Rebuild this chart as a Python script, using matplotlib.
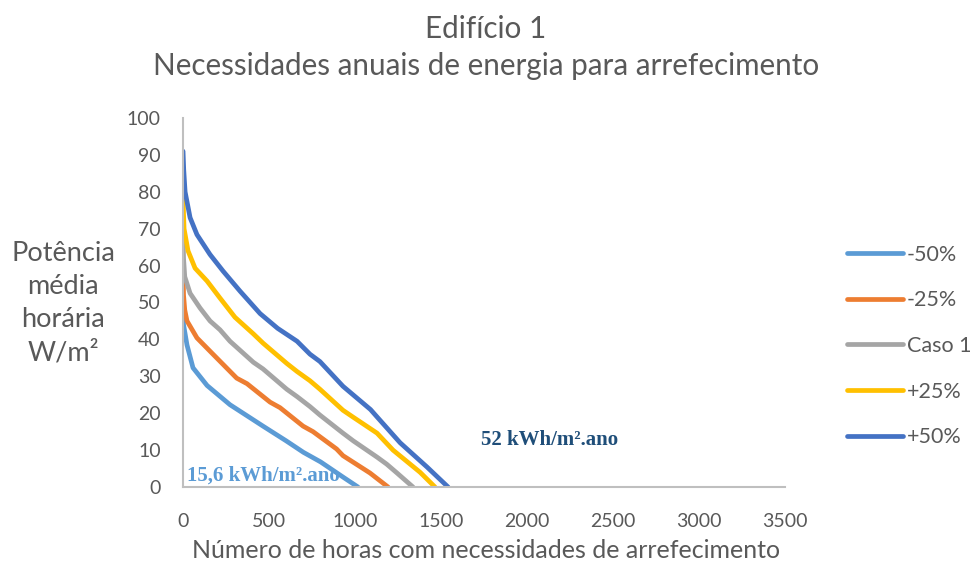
import matplotlib
matplotlib.use("Agg")
import matplotlib.pyplot as plt

plt.rcParams['font.family'] = ['Lato', 'DejaVu Sans']

# load duration curves (hours, W/m2)
h_m50 = [0, 3, 23, 58, 140, 273, 465, 600, 700, 800, 930, 1017]
v_m50 = [49, 44, 38.5, 32.3, 27.5, 22.3, 16.5, 12.5, 9.4, 6.8, 2.7, 0]

h_m25 = [0, 3, 10, 23, 81, 174, 312, 372, 506, 564, 698, 756, 893, 930, 1087, 1192]
v_m25 = [59, 52, 48, 45, 40.4, 36, 29.5, 28, 23, 21.5, 16.5, 15, 10.3, 8.5, 3.8, 0]

h_caso = [0, 3, 10, 41, 99, 157, 215, 273, 409, 465, 603, 663, 738, 796, 930, 990,
          1128, 1184, 1244, 1337]
v_caso = [70, 62, 57, 52.5, 48.5, 45, 42.6, 39.5, 33.8, 32, 26.5, 24.5, 21.8, 19.5,
          14.6, 12.5, 8.1, 6.2, 3.8, 0]

h_p25 = [0, 3, 6, 29, 70, 140, 215, 302, 409, 465, 603, 663, 738, 796, 930, 990,
         1128, 1221, 1378, 1465]
v_p25 = [80, 74, 70, 64, 59.3, 55.8, 51.2, 46, 41.5, 39, 33.5, 31.3, 28.8, 26.5,
         20.8, 18.9, 14.6, 10, 4, 0]

h_p50 = [0, 4, 12, 41, 81, 157, 233, 331, 448, 550, 663, 738, 796, 930, 1090, 1128,
         1262, 1419, 1541]
v_p50 = [91, 86, 80, 73, 68.4, 63, 58.5, 53.1, 47, 43, 39.5, 36, 34, 27.3, 21, 19,
         12, 5.4, 0]

series = [
    ("-50%", h_m50, v_m50, "#5B9BD5"),
    ("-25%", h_m25, v_m25, "#ED7D31"),
    ("Caso 1", h_caso, v_caso, "#A5A5A5"),
    ("+25%", h_p25, v_p25, "#FFC000"),
    ("+50%", h_p50, v_p50, "#4472C4"),
]

fig = plt.figure(figsize=(9.72, 5.70), dpi=100)
ax = fig.add_axes([0.1883, 0.1456, 0.8076 - 0.1883, 0.793 - 0.1456])

for name, h, v, c in series:
    ax.plot(h, v, color=c, lw=3.4, label=name, solid_capstyle='round',
            solid_joinstyle='round')

ax.set_xlim(0, 3500)
ax.set_ylim(0, 100)
ax.set_xticks(range(0, 3501, 500))
ax.set_yticks(range(0, 101, 10))
for s in ['top', 'right']:
    ax.spines[s].set_visible(False)
for s in ['left', 'bottom']:
    ax.spines[s].set_color('#BFBFBF')
    ax.spines[s].set_linewidth(1.5)
ax.tick_params(length=0, labelsize=14, colors='#595959')
ax.tick_params(axis='x', pad=19)
ax.tick_params(axis='y', pad=16)

fig.text(0.5, 1 - 551 / 570, "Número de horas com necessidades de arrefecimento",
         ha='center', va='center', fontsize=18, color='#595959')

fig.text(0.5, 1 - 29 / 570, "Edifício 1", ha='center', va='center',
         fontsize=21.3, color='#595959')
fig.text(0.5, 1 - 66 / 570, "Necessidades anuais de energia para arrefecimento",
         ha='center', va='center', fontsize=21.3, color='#595959')
fig.text(0.065, 0.468, "Potência\nmédia\nhorária\nW/m²", ha='center', va='center',
         fontsize=19.5, color='#595959', linespacing=1.4)

ax.text(23, 3, "15,6 kWh/m².ano", color='#5B9BD5', fontsize=15,
        fontweight='bold', family='Liberation Serif', va='center')
ax.text(1733, 12.7, "52 kWh/m².ano", color='#1F4E79', fontsize=15,
        fontweight='bold', family='Liberation Serif', va='center')

fig.legend(loc='center left', bbox_to_anchor=(0.863, 0.393), frameon=False,
           borderaxespad=0, fontsize=15.5, handlelength=2.56, handletextpad=0.2,
           labelspacing=1.19, labelcolor='#595959')

fig.savefig("out.png", dpi=100)
